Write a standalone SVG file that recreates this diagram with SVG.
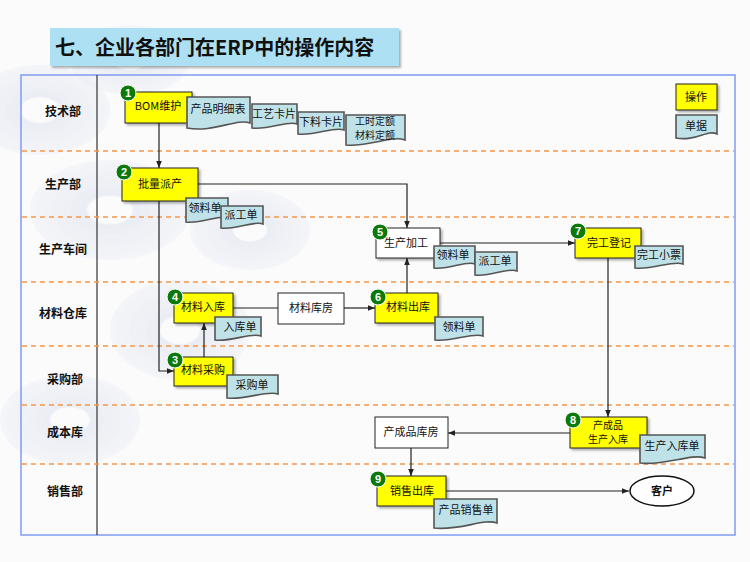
<svg xmlns="http://www.w3.org/2000/svg" width="750" height="562" viewBox="0 0 750 562">
<defs>
<filter id="sh" x="-10%" y="-10%" width="130%" height="140%"><feDropShadow dx="2" dy="2" stdDeviation="1" flood-color="#000" flood-opacity="0.3"/></filter>
<marker id="ar" viewBox="0 0 10 10" refX="10" refY="5" markerWidth="6" markerHeight="6" orient="auto"><path d="M0,1 L10,5 L0,9 Z" fill="#222"/></marker>
<radialGradient id="disc" cx="50%" cy="50%" r="50%"><stop offset="0.25" stop-color="#fff" stop-opacity="0"/><stop offset="0.3" stop-color="#c9d1e3" stop-opacity="0.45"/><stop offset="1" stop-color="#dfe4ef" stop-opacity="0.35"/></radialGradient>
</defs>
<style>
.op{fill:#ffff00;stroke:#222;stroke-width:1}
.wb{fill:#fff;stroke:#222;stroke-width:1}
.doc{fill:#bfe2e8;stroke:#555;stroke-width:1.6}
.t{font-family:"Noto Sans CJK SC","Liberation Sans",sans-serif;font-size:11px;fill:#111;text-anchor:middle}
.t2{font-family:"Noto Sans CJK SC","Liberation Sans",sans-serif;font-size:10px;fill:#111;text-anchor:middle}
.lane{font-family:"Noto Sans CJK SC","Liberation Sans",sans-serif;font-size:12px;font-weight:bold;fill:#111;text-anchor:middle}
.bd circle{fill:#0b7a0b;stroke:#fff;stroke-width:1}
.bd text{font-family:"Liberation Sans",Arial,sans-serif;font-size:11px;font-weight:bold;fill:#fff;text-anchor:middle}
.dash{stroke:#f79646;stroke-width:1.3;stroke-dasharray:5 4}
.cn path{fill:none;stroke:#222;stroke-width:1.2}
</style>
<rect width="750" height="562" fill="#fbfbfc"/>
<g id="background" opacity="0.75">
<ellipse cx="40" cy="110" rx="70" ry="45" fill="url(#disc)"/>
<ellipse cx="130" cy="60" rx="60" ry="35" fill="url(#disc)"/>
<ellipse cx="110" cy="210" rx="80" ry="50" fill="url(#disc)"/>
<ellipse cx="180" cy="330" rx="70" ry="50" fill="url(#disc)"/>
<ellipse cx="70" cy="420" rx="70" ry="45" fill="url(#disc)"/>
<ellipse cx="250" cy="230" rx="60" ry="40" fill="url(#disc)"/>
</g>
<g id="title">
<rect x="50" y="28" width="349" height="38" fill="#aee0f3" filter="url(#sh)"/>
<text x="55" y="55" font-family="Noto Sans CJK SC,sans-serif" font-size="20" font-weight="bold" fill="#111">七、企业各部门在ERP中的操作内容</text>
</g>
<g id="frame">
<rect x="21" y="75" width="714" height="460" fill="none" stroke="#7f9cf0" stroke-width="1.5"/>
<line x1="97" y1="75" x2="97" y2="535" stroke="#333" stroke-width="1.2"/>
<line class="dash" x1="22" y1="151" x2="734" y2="151"/>
<line class="dash" x1="22" y1="217" x2="734" y2="217"/>
<line class="dash" x1="22" y1="282" x2="734" y2="282"/>
<line class="dash" x1="22" y1="346" x2="734" y2="346"/>
<line class="dash" x1="22" y1="405" x2="734" y2="405"/>
<line class="dash" x1="22" y1="464" x2="734" y2="464"/>
<text class="lane" x="63" y="116">技术部</text>
<text class="lane" x="63" y="189">生产部</text>
<text class="lane" x="63" y="254">生产车间</text>
<text class="lane" x="63" y="318">材料仓库</text>
<text class="lane" x="65" y="384">采购部</text>
<text class="lane" x="65" y="437">成本库</text>
<text class="lane" x="65" y="496">销售部</text>
</g>
<g id="connectors" class="cn">
<path d="M159,123 V168" marker-end="url(#ar)"/>
<path d="M198,184 H407 V228" marker-end="url(#ar)"/>
<path d="M159,201 V371 H174" marker-end="url(#ar)"/>
<path d="M204,357 V323" marker-end="url(#ar)"/>
<path d="M233,308 H278"/>
<path d="M344,308 H375" marker-end="url(#ar)"/>
<path d="M407,293 V258" marker-end="url(#ar)"/>
<path d="M440,243 H575" marker-end="url(#ar)"/>
<path d="M608,258 V417" marker-end="url(#ar)"/>
<path d="M570,433 H448" marker-end="url(#ar)"/>
<path d="M411,448 V476" marker-end="url(#ar)"/>
<path d="M446,491 H629" marker-end="url(#ar)"/>
</g>
<g id="legend">
<rect class="op" x="676" y="84" width="41" height="26" filter="url(#sh)"/>
<text class="t" x="696" y="101">操作</text>
<path class="doc" d="M676,115 H717 V134 C708,129 695,142 676,138 Z"/>
<text class="t" x="696" y="130">单据</text>
</g>
<g id="n1">
<rect class="op" x="125" y="92" width="67" height="31" filter="url(#sh)"/>
<text class="t" x="158" y="110">BOM维护</text>
<g class="bd"><circle cx="128" cy="93" r="8"/><text x="128" y="97">1</text></g>
<path class="doc" d="M187,97 H250 V123 C237,118 213,133 187,128 Z"/>
<text class="t" x="218" y="113">产品明细表</text>
<path class="doc" d="M252,104 H297 V124 C288,120 270,130 252,128 Z"/>
<text class="t" x="274" y="118">工艺卡片</text>
<path class="doc" d="M298,112 H344 V130 C334,126 316,136 298,134 Z"/>
<text class="t" x="321" y="126">下料卡片</text>
<path class="doc" d="M346,115 H405 V140 C392,135 370,147 346,145 Z"/>
<text class="t2" x="375" y="125">工时定额</text>
<text class="t2" x="375" y="139">材料定额</text>
</g>
<g id="n2">
<rect class="op" x="122" y="168" width="76" height="33" filter="url(#sh)"/>
<text class="t" x="160" y="188">批量派产</text>
<g class="bd"><circle cx="124" cy="172" r="8"/><text x="124" y="176">2</text></g>
<path class="doc" d="M186,198 H228 V218 C220,214 202,224 186,222 Z"/>
<text class="t" x="205" y="212">领料单</text>
<path class="doc" d="M221,206 H263 V224 C255,220 237,230 221,228 Z"/>
<text class="t" x="241" y="219">派工单</text>
</g>
<g id="n5">
<rect class="wb" x="376" y="228" width="64" height="30" filter="url(#sh)"/>
<text class="t" x="406" y="247">生产加工</text>
<g class="bd"><circle cx="380" cy="232" r="8"/><text x="380" y="236">5</text></g>
<path class="doc" d="M434,246 H475 V264 C466,260 450,270 434,268 Z"/>
<text class="t" x="453" y="259">领料单</text>
<path class="doc" d="M475,252 H517 V271 C508,267 491,277 475,275 Z"/>
<text class="t" x="495" y="265">派工单</text>
</g>
<g id="n7">
<rect class="op" x="575" y="228" width="66" height="30" filter="url(#sh)"/>
<text class="t" x="609" y="247">完工登记</text>
<g class="bd"><circle cx="578" cy="231" r="8"/><text x="578" y="235">7</text></g>
<path class="doc" d="M635,246 H683 V264 C673,260 653,270 635,268 Z"/>
<text class="t" x="659" y="259">完工小票</text>
</g>
<g id="n4">
<rect class="op" x="174" y="293" width="59" height="30" filter="url(#sh)"/>
<text class="t" x="203" y="311">材料入库</text>
<g class="bd"><circle cx="175" cy="297" r="8"/><text x="175" y="301">4</text></g>
<path class="doc" d="M215,317 H261 V336 C251,332 232,342 215,340 Z"/>
<text class="t" x="240" y="331">入库单</text>
</g>
<g id="warehouse">
<rect class="wb" x="278" y="293" width="66" height="31"/>
<text class="t" x="311" y="312">材料库房</text>
</g>
<g id="n6">
<rect class="op" x="375" y="293" width="63" height="30" filter="url(#sh)"/>
<text class="t" x="408" y="311">材料出库</text>
<g class="bd"><circle cx="378" cy="297" r="8"/><text x="378" y="301">6</text></g>
<path class="doc" d="M435,317 H483 V336 C473,332 453,342 435,340 Z"/>
<text class="t" x="459" y="331">领料单</text>
</g>
<g id="n3">
<rect class="op" x="174" y="357" width="59" height="29" filter="url(#sh)"/>
<text class="t" x="203" y="374">材料采购</text>
<g class="bd"><circle cx="175" cy="360" r="8"/><text x="175" y="364">3</text></g>
<path class="doc" d="M227,375 H278 V394 C267,390 246,400 227,398 Z"/>
<text class="t" x="252" y="389">采购单</text>
</g>
<g id="finishedstore">
<rect class="wb" x="375" y="417" width="73" height="31"/>
<text class="t" x="411" y="436">产成品库房</text>
</g>
<g id="n8">
<rect class="op" x="570" y="417" width="77" height="31" filter="url(#sh)"/>
<text class="t2" x="608" y="429">产成品</text>
<text class="t2" x="608" y="443">生产入库</text>
<g class="bd"><circle cx="573" cy="420" r="8"/><text x="573" y="424">8</text></g>
<path class="doc" d="M640,435 H705 V458 C691,453 665,466 640,463 Z"/>
<text class="t" x="672" y="450">生产入库单</text>
</g>
<g id="n9">
<rect class="op" x="377" y="476" width="69" height="30" filter="url(#sh)"/>
<text class="t" x="412" y="495">销售出库</text>
<g class="bd"><circle cx="378" cy="479" r="8"/><text x="378" y="483">9</text></g>
<path class="doc" d="M434,499 H497 V523 C484,518 460,531 434,528 Z"/>
<text class="t" x="466" y="514">产品销售单</text>
</g>
<g id="customer">
<ellipse cx="662" cy="491" rx="32" ry="15" fill="#fff" stroke="#111" stroke-width="1.5"/>
<text class="t" x="662" y="495" font-weight="bold">客户</text>
</g>
</svg>
